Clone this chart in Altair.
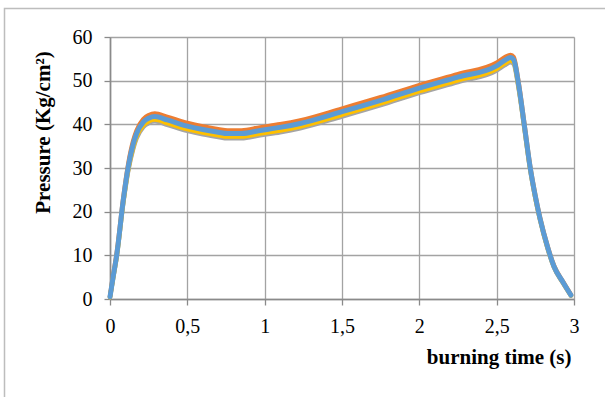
import altair as alt
import pandas as pd

# burning time (s)
time_s = [0, 0.02, 0.043, 0.086, 0.118, 0.15, 0.172, 0.215, 0.25, 0.29, 0.37, 0.5, 0.6, 0.7,
          0.76, 0.85, 0.97, 1.1, 1.23, 1.5, 1.75, 2.0, 2.25, 2.5, 2.55, 2.59, 2.61, 2.64,
          2.68, 2.715, 2.75, 2.78, 2.83, 2.87, 2.93, 2.98]

# pressure (Kg/cm2) for the four series
p_orange = [0.6, 5.3, 10.4, 23.2, 30.9, 36.2, 38.6, 41.2, 42.1, 42.5, 41.7, 40.3, 39.5, 38.9,
            38.6, 38.6, 39.3, 40.0, 40.9, 43.6, 46.2, 49.0, 51.5, 54.1, 55.3, 55.9, 55.4, 50.0,
            39.9, 30.8, 23.8, 18.7, 12.0, 7.7, 3.9, 1.0]
p_blue = [0.5, 5.0, 10.0, 22.7, 30.3, 35.5, 37.9, 40.5, 41.4, 41.8, 41.0, 39.6, 38.8, 38.2,
          37.9, 37.9, 38.6, 39.3, 40.2, 42.9, 45.5, 48.3, 50.8, 53.4, 54.6, 55.3, 54.8, 49.5,
          39.5, 30.5, 23.5, 18.5, 11.8, 7.5, 3.8, 0.9]
p_yellow = [0.4, 4.8, 9.7, 22.2, 29.7, 34.8, 37.2, 39.8, 40.7, 41.1, 40.3, 38.9, 38.1, 37.5,
            37.2, 37.2, 37.9, 38.6, 39.5, 42.2, 44.8, 47.6, 50.1, 52.7, 53.9, 54.6, 54.2, 49.0,
            39.1, 30.2, 23.2, 18.3, 11.6, 7.4, 3.7, 0.8]
p_gray = [0.4, 4.7, 9.6, 22.0, 29.4, 34.4, 36.8, 39.4, 40.3, 40.7, 39.9, 38.5, 37.7, 37.1,
          36.8, 36.8, 37.5, 38.2, 39.1, 41.8, 44.4, 47.2, 49.7, 52.3, 53.5, 54.2, 53.8, 48.7,
          38.9, 30.0, 23.1, 18.2, 11.5, 7.3, 3.6, 0.8]

series_names = ["S4", "S2", "S3", "S1"]
series_vals = [p_gray, p_orange, p_yellow, p_blue]
series_colors = ["#a5a5a5", "#ed7d31", "#ffc000", "#5b9bd5"]
series_widths = [4.5, 4.5, 4.5, 5]

x_ticks = [0, 0.5, 1, 1.5, 2, 2.5, 3]
y_ticks = [0, 10, 20, 30, 40, 50, 60]

FONT = "Liberation Serif"

x_scale = alt.Scale(domain=[0, 3], nice=False, zero=False)
y_scale = alt.Scale(domain=[0, 60], nice=False)

x_axis = alt.Axis(values=x_ticks, labelExpr="replace(format(datum.value, '~g'), '.', ',')",
                  title="burning time (s)", titleFont=FONT, titleFontSize=21, titleFontWeight="bold",
                  titleAlign="right", titleAnchor="end", titleX=461, titleY=64, titleBaseline="alphabetic",
                  labelFont=FONT, labelFontSize=20, labelPadding=11, labelColor="#000000",
                  labelFlush=False, labelOverlap=False,
                  titleColor="#000000", gridColor="#a3a3a3", gridWidth=1.3,
                  domainColor="#8a8a8a", domainWidth=1.6, tickColor="#8a8a8a", tickSize=6, tickWidth=1.3)
y_axis = alt.Axis(values=y_ticks, title="Pressure (Kg/cm²)", titleFont=FONT, titleFontSize=21,
                  titleFontWeight="bold", titleAngle=270, titleAlign="center", titleBaseline="middle",
                  titleX=-67, titleY=95, labelFont=FONT, labelFontSize=20, labelPadding=12,
                  labelFlush=False, labelOverlap=False,
                  labelColor="#000000", titleColor="#000000", gridColor="#a3a3a3", gridWidth=1.3,
                  domainColor="#8a8a8a", domainWidth=1.6, tickColor="#8a8a8a", tickSize=6, tickWidth=1.3)

frame = alt.Chart(pd.DataFrame({"a": [0]})).mark_rect(
    fill=None, stroke="#bdbdbd", strokeWidth=1.5
).encode(x=alt.value(-105.5), x2=alt.value(500), y=alt.value(-28.5), y2=alt.value(370))

layers = [frame]
for i, (name, vals) in enumerate(zip(series_names, series_vals)):
    df = pd.DataFrame({"t": time_s, "p": vals, "s": name})
    line = alt.Chart(df).mark_line(
        color=series_colors[i], strokeWidth=series_widths[i], interpolate="monotone",
        strokeCap="round", strokeJoin="round"
    ).encode(
        x=alt.X("t:Q", scale=x_scale, axis=x_axis),
        y=alt.Y("p:Q", scale=y_scale, axis=y_axis),
    )
    layers.append(line)

chart = alt.layer(*layers).properties(
    width=464, height=262,
    autosize=alt.AutoSizeParams(type="none"),
    padding={"left": 110, "top": 37, "right": 31, "bottom": 98},
).configure_view(strokeWidth=0).configure(background="white", font=FONT)

chart.save("out.html", embed_options={"renderer": "svg", "actions": False})
